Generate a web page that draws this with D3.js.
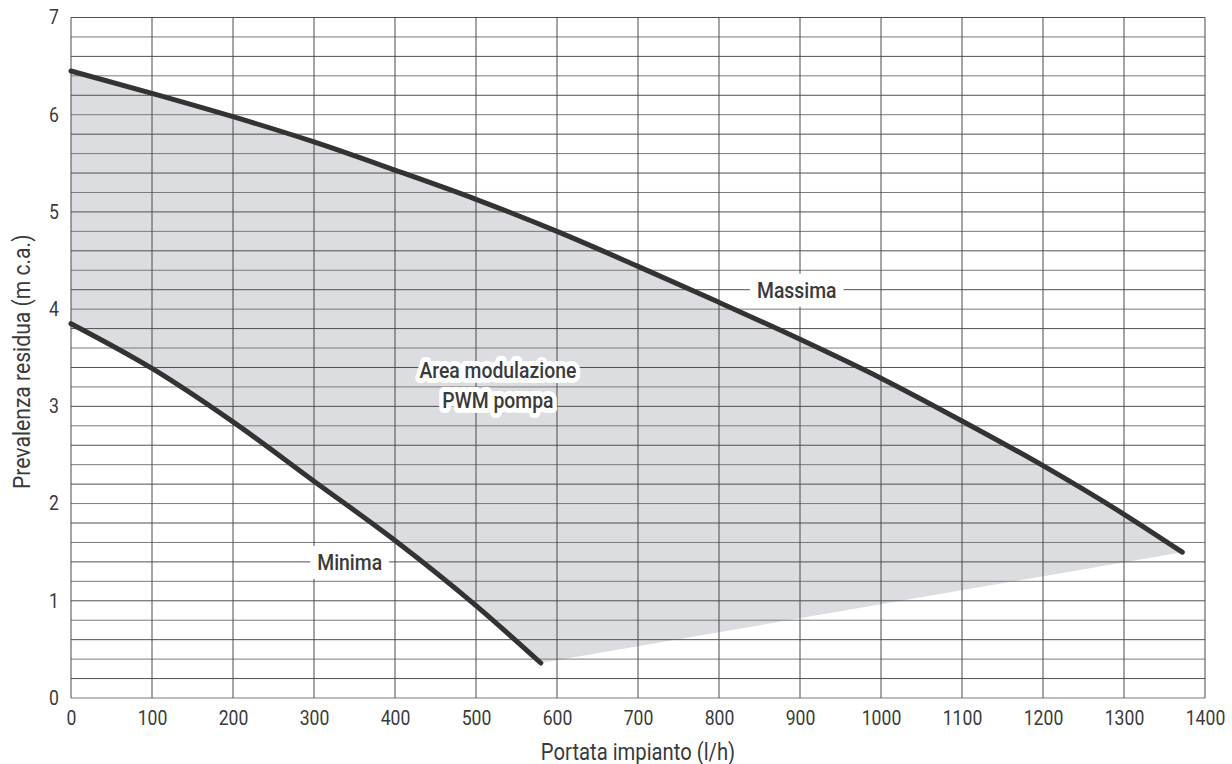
<!DOCTYPE html>
<html>
<head>
<meta charset="utf-8">
<script src="https://cdn.jsdelivr.net/npm/d3@7"></script>
<style>
  body { margin: 0; background: #fff; }
  svg text { font-family: Roboto, "Liberation Sans", sans-serif; fill: #3a3a3a; }
</style>
</head>
<body>
<svg width="1232" height="764"></svg>
<script>
// portata (l/h) -> prevalenza (m c.a.)
const massimaX = [0, 100, 200, 300, 400, 500, 600, 700, 800, 900, 1000, 1100, 1200, 1300, 1372];
const massimaY = [6.45, 6.22, 5.98, 5.72, 5.43, 5.13, 4.8, 4.44, 4.07, 3.69, 3.29, 2.85, 2.39, 1.89, 1.5];
const minimaX = [0, 100, 200, 300, 400, 500, 580];
const minimaY = [3.85, 3.39, 2.84, 2.23, 1.62, 0.95, 0.36];
const xTicks = [0, 100, 200, 300, 400, 500, 600, 700, 800, 900, 1000, 1100, 1200, 1300, 1400];
const yTicks = [0, 1, 2, 3, 4, 5, 6, 7];

const svg = d3.select("svg");
const margin = { left: 71, right: 27, top: 17.5, bottom: 66 };
const width = +svg.attr("width");
const height = +svg.attr("height");
const narrow = 0.88; // fake a condensed face

const x = d3.scaleLinear().domain([0, 1400]).range([margin.left, width - margin.right]);
const y = d3.scaleLinear().domain([0, 7]).range([height - margin.bottom, margin.top]);

const massima = massimaX.map((d, i) => [d, massimaY[i]]);
const minima = minimaX.map((d, i) => [d, minimaY[i]]);

const line = d3.line()
  .x((d) => x(d[0]))
  .y((d) => y(d[1]))
  .curve(d3.curveMonotoneX);

// shaded area: upper curve, straight to the end of the lower curve, back along it
const upperPath = line(massima);
const lowerPath = line(minima.slice().reverse());
svg.append("path")
  .attr("d", upperPath + "L" + lowerPath.slice(1) + "Z")
  .attr("fill", "#dcdde0");

// grid
const grid = svg.append("g");
grid.selectAll("line.h")
  .data(d3.range(0, 36).map((i) => i * 0.2))
  .enter()
  .append("line")
  .attr("x1", x(0))
  .attr("x2", x(1400))
  .attr("y1", (d) => y(d))
  .attr("y2", (d) => y(d))
  .attr("stroke", (d, i) => (i % 2 ? "#505050" : "#7a7a7a"))
  .attr("stroke-width", 1);
grid.selectAll("line.v")
  .data(xTicks)
  .enter()
  .append("line")
  .attr("x1", (d) => x(d))
  .attr("x2", (d) => x(d))
  .attr("y1", y(0))
  .attr("y2", y(7))
  .attr("stroke", "#4a4a4a")
  .attr("stroke-width", 1);

// tick labels
const xAxis = d3.axisBottom(x).tickValues(xTicks).tickFormat(d3.format("d")).tickSize(0).tickPadding(13);
svg.append("g")
  .attr("transform", `translate(0,${y(0)})`)
  .call(xAxis)
  .call((g) => g.select(".domain").remove())
  .selectAll("text")
  .style("font-size", "20px")
  .attr("fill", "#3a3a3a")
  .attr("transform", `scale(${narrow},1)`);

const yAxis = d3.axisLeft(y).tickValues(yTicks).tickFormat(d3.format("d")).tickSize(0).tickPadding(12 / narrow);
svg.append("g")
  .attr("transform", `translate(${x(0)},0)`)
  .call(yAxis)
  .call((g) => g.select(".domain").remove())
  .selectAll("text")
  .style("font-size", "20px")
  .attr("fill", "#3a3a3a")
  .attr("transform", `scale(${narrow},1)`);

// axis titles
svg.append("text")
  .attr("transform", `translate(${(x(0) + x(1400)) / 2},760) scale(${narrow},1)`)
  .attr("text-anchor", "middle")
  .style("font-size", "23px")
  .text("Portata impianto (l/h)");

svg.append("text")
  .attr("transform", `translate(30,${(y(0) + y(7)) / 2 + 4}) rotate(-90) scale(${narrow},1)`)
  .attr("text-anchor", "middle")
  .style("font-size", "24px")
  .text("Prevalenza residua (m c.a.)");

// curves
[massima, minima].forEach((series) => {
  svg.append("path")
    .attr("d", line(series))
    .attr("fill", "none")
    .attr("stroke", "#333")
    .attr("stroke-width", 5)
    .attr("stroke-linecap", "round");
});

// curve labels on white boxes
function boxLabel(txt, vx, vy) {
  const g = svg.append("g")
    .attr("transform", `translate(${x(vx)},${y(vy)}) scale(${narrow},1)`);
  g.append("text")
    .attr("dy", "0.36em")
    .attr("text-anchor", "middle")
    .style("font-size", "22px")
    .style("font-weight", 500)
    .text(txt);
  const b = g.select("text").node().getBBox();
  g.insert("rect", "text")
    .attr("x", b.x - 8)
    .attr("y", -16)
    .attr("width", b.width + 16)
    .attr("height", 33)
    .attr("fill", "#fff");
}
boxLabel("Massima", 896, 4.2);
boxLabel("Minima", 344, 1.4);

const areaLabel = svg.append("text")
  .attr("transform", `translate(${x(527)},0) scale(${narrow},1)`)
  .attr("text-anchor", "middle")
  .style("font-size", "22px")
  .style("font-weight", 500)
  .style("paint-order", "stroke")
  .attr("stroke", "#fff")
  .attr("stroke-width", 10)
  .attr("stroke-linejoin", "round");
areaLabel.append("tspan").attr("x", 0).attr("y", 378).text("Area modulazione");
areaLabel.append("tspan").attr("x", 0).attr("y", 408).text("PWM pompa");
</script>
</body>
</html>
